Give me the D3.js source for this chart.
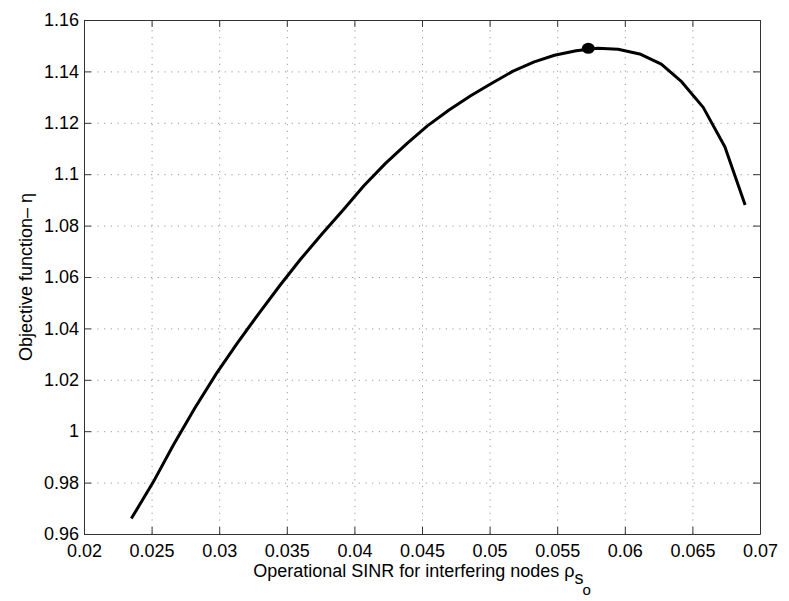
<!DOCTYPE html>
<html>
<head>
<meta charset="utf-8">
<script src="https://cdn.jsdelivr.net/npm/d3@7"></script>
<style>
	body { margin: 0; background: #fff; }
	svg { display: block; font-family: "Liberation Sans", Arial, Helvetica, sans-serif; }
	.grid line { stroke: #9a9a9a; stroke-dasharray: 1.2,5.5; }
	.grid path { display: none; }
	.axis path, .axis line { stroke: #333; }
	.axis text { font-size: 18px; fill: #000; }
</style>
</head>
<body>
<svg id="chart" width="789" height="601"></svg>
<script>
(function (d3) {
	"use strict";

	/***** Data *****/
	// operational SINR for interfering nodes
	var sinr = [0.0235, 0.0251, 0.0266, 0.0282, 0.0298, 0.0313, 0.0329, 0.0345, 0.0360, 0.0376,
		0.0392, 0.0407, 0.0423, 0.0439, 0.0454, 0.0470, 0.0486, 0.0501, 0.0517, 0.0533,
		0.0548, 0.0564, 0.0580, 0.0595, 0.0611, 0.0627, 0.0642, 0.0658, 0.0674, 0.0689];
	// objective function eta
	var eta = [0.966, 0.980, 0.9945, 1.009, 1.0225, 1.0340, 1.0456, 1.0568, 1.0668, 1.0767,
		1.0863, 1.0955, 1.1042, 1.1120, 1.1188, 1.1250, 1.1305, 1.1352, 1.1400, 1.1437,
		1.1463, 1.1480, 1.1490, 1.1486, 1.1468, 1.1428, 1.136, 1.126, 1.1107, 1.088];
	// optimum marker
	var optimum = [0.0573, 1.149];

	var xTicks = [0.02, 0.025, 0.03, 0.035, 0.04, 0.045, 0.05, 0.055, 0.06, 0.065, 0.07];
	var yTicks = [0.96, 0.98, 1, 1.02, 1.04, 1.06, 1.08, 1.1, 1.12, 1.14, 1.16];

	/***** Layout *****/
	const left = 84, right = 760, top = 20, bottom = 534;
	const tickLen = 7;

	var svg = d3.select("#chart");

	var x = d3.scaleLinear().domain([0.02, 0.07]).range([left, right]);
	var y = d3.scaleLinear().domain([0.96, 1.16]).range([bottom, top]);

	var fmt = function (d) { return String(+d.toFixed(3)); };

	// dotted grid
	svg.append("g").attr("class", "grid")
		.attr("transform", "translate(0," + bottom + ")")
		.call(d3.axisBottom(x).tickValues(xTicks.slice(1, -1)).tickSize(-(bottom - top)).tickFormat(""));
	svg.append("g").attr("class", "grid")
		.attr("transform", "translate(" + left + ",0)")
		.call(d3.axisLeft(y).tickValues(yTicks.slice(1, -1)).tickSize(-(right - left)).tickFormat(""));

	// axes with inward ticks
	svg.append("g").attr("class", "axis")
		.attr("transform", "translate(0," + bottom + ")")
		.call(d3.axisBottom(x).tickValues(xTicks).tickSizeInner(-tickLen).tickSizeOuter(0).tickPadding(10).tickFormat(fmt));
	svg.append("g").attr("class", "axis")
		.attr("transform", "translate(0," + top + ")")
		.call(d3.axisTop(x).tickValues(xTicks).tickSizeInner(-tickLen).tickSizeOuter(0).tickFormat(""));
	svg.append("g").attr("class", "axis")
		.attr("transform", "translate(" + left + ",0)")
		.call(d3.axisLeft(y).tickValues(yTicks).tickSizeInner(-tickLen).tickSizeOuter(0).tickPadding(5).tickFormat(fmt));
	svg.append("g").attr("class", "axis")
		.attr("transform", "translate(" + right + ",0)")
		.call(d3.axisRight(y).tickValues(yTicks).tickSizeInner(-tickLen).tickSizeOuter(0).tickFormat(""));

	/***** Curve *****/
	var line = d3.line()
		.x(function (d, i) { return x(sinr[i]); })
		.y(function (d) { return y(d); });

	svg.append("path")
		.datum(eta)
		.attr("fill", "none")
		.attr("stroke", "#000")
		.attr("stroke-width", 3)
		.attr("stroke-linejoin", "round")
		.attr("d", line);

	svg.append("ellipse")
		.attr("cx", x(optimum[0]))
		.attr("cy", y(optimum[1]))
		.attr("rx", 6.5)
		.attr("ry", 5.5)
		.attr("fill", "#000");

	/***** Labels *****/
	var xl = svg.append("text")
		.attr("x", (left + right) / 2)
		.attr("y", 577)
		.attr("text-anchor", "middle")
		.style("font-size", "18px");
	xl.append("tspan").text("Operational SINR for interfering nodes \u03C1");
	xl.append("tspan").attr("dy", 7).text("s");
	xl.append("tspan").attr("dy", 11).attr("dx", -1).style("font-size", "15px").text("o");

	svg.append("text")
		.attr("transform", "translate(32," + ((top + bottom) / 2) + ") rotate(-90)")
		.attr("text-anchor", "middle")
		.style("font-size", "18px")
		.text("Objective function\u2013 \u03B7");

})(d3);
</script>
</body>
</html>
